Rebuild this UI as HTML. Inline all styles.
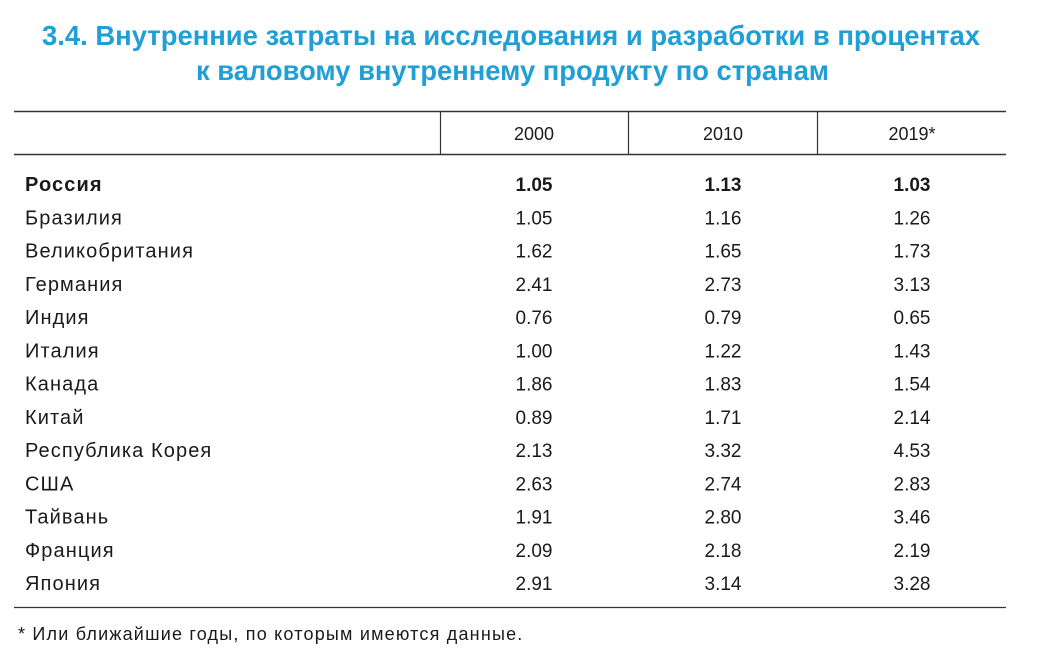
<!DOCTYPE html>
<html><head><meta charset="utf-8"><style>
html,body{margin:0;padding:0;background:#fff;}
svg{display:block;font-family:"Liberation Sans","DejaVu Sans",sans-serif;}
</style></head><body>
<svg width="1055" height="667" viewBox="0 0 1055 667">
<text x="42" y="45" font-size="28" font-weight="bold" fill="#1f9fd6" textLength="938" lengthAdjust="spacingAndGlyphs">3.4. Внутренние затраты на исследования и разработки в процентах</text>
<text x="196" y="80" font-size="28" font-weight="bold" fill="#1f9fd6" textLength="633" lengthAdjust="spacingAndGlyphs">к валовому внутреннему продукту по странам</text>
<line x1="14" y1="111.5" x2="1006" y2="111.5" stroke="#333" stroke-width="1.5"/>
<line x1="14" y1="154.5" x2="1006" y2="154.5" stroke="#333" stroke-width="1.5"/>
<line x1="14" y1="607.5" x2="1006" y2="607.5" stroke="#333" stroke-width="1.2"/>
<g stroke="#333" stroke-width="1.2">
<line x1="440.5" y1="111" x2="440.5" y2="155"/>
<line x1="628.5" y1="111" x2="628.5" y2="155"/>
<line x1="817.5" y1="111" x2="817.5" y2="155"/>
</g>
<g id="body" font-size="19" fill="#1a1a1a"></g>
<text x="18" y="640" font-size="18" fill="#1a1a1a" letter-spacing="1.2">* Или ближайшие годы, по которым имеются данные.</text>
</svg>
<script>
const years = ["2000","2010","2019*"];
const countries = ["Россия","Бразилия","Великобритания","Германия","Индия","Италия","Канада","Китай","Республика Корея","США","Тайвань","Франция","Япония"];
const v2000 = ["1.05","1.05","1.62","2.41","0.76","1.00","1.86","0.89","2.13","2.63","1.91","2.09","2.91"];
const v2010 = ["1.13","1.16","1.65","2.73","0.79","1.22","1.83","1.71","3.32","2.74","2.80","2.18","3.14"];
const v2019 = ["1.03","1.26","1.73","3.13","0.65","1.43","1.54","2.14","4.53","2.83","3.46","2.19","3.28"];
const NS="http://www.w3.org/2000/svg";
const g=document.getElementById('body');
const colX=[534,723,912];
const series=[v2000,v2010,v2019];
function t(x,y,s,anchor,bold){
  const e=document.createElementNS(NS,'text');
  e.setAttribute('x',x);e.setAttribute('y',y);
  if(anchor)e.setAttribute('text-anchor',anchor);
  if(bold)e.setAttribute('font-weight','bold');
  e.textContent=s;g.appendChild(e);return e;
}
years.forEach((y,i)=>{
  const e=t(colX[i],140,y,'middle',false);
  e.setAttribute('font-size','18');
  
  
});
countries.forEach((c,r)=>{
  const y=191+r*33.25;
  const bold=r===0;
  const n=t(25,y,c,null,bold);
  n.setAttribute('font-size','20');
  n.setAttribute('letter-spacing','1.1');
  
  
  series.forEach((s,i)=>{
    const e=t(colX[i],y,s[r],'middle',bold);
    
    
  });
});
</script>
</body></html>
